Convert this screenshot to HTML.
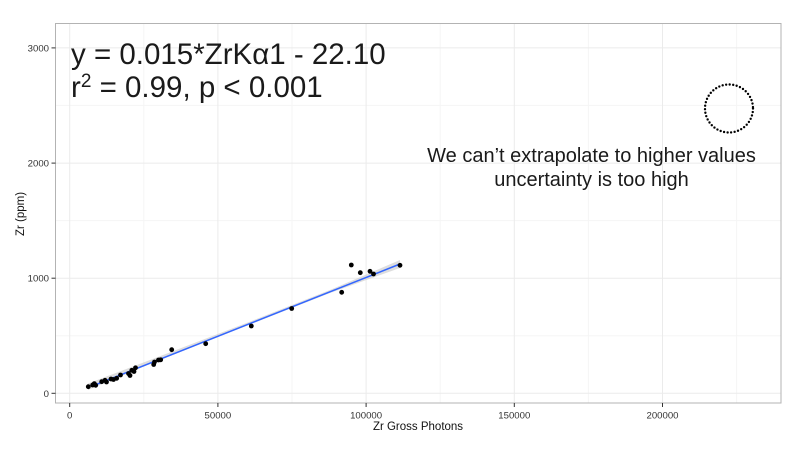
<!DOCTYPE html>
<html>
<head>
<meta charset="utf-8">
<style>
  html, body { margin: 0; padding: 0; background: #ffffff; }
  svg { display: block; }
  text { font-family: "Liberation Sans", Helvetica, Arial, sans-serif; }
</style>
</head>
<body>
<svg width="800" height="450" viewBox="0 0 800 450" xmlns="http://www.w3.org/2000/svg">
  <rect x="0" y="0" width="800" height="450" fill="#ffffff"/>
  <!-- panel -->
  <rect x="55.5" y="23.5" width="725.5" height="379.5" fill="#ffffff"/>
  <!-- minor grid -->
  <g stroke="#f5f5f5" stroke-width="1">
    <line x1="55.5" x2="781" y1="335.7" y2="335.7"/>
    <line x1="55.5" x2="781" y1="220.6" y2="220.6"/>
    <line x1="55.5" x2="781" y1="105.4" y2="105.4"/>
    <line x1="143.8" x2="143.8" y1="23.5" y2="403"/>
    <line x1="292" x2="292" y1="23.5" y2="403"/>
    <line x1="440.2" x2="440.2" y1="23.5" y2="403"/>
    <line x1="588.4" x2="588.4" y1="23.5" y2="403"/>
    <line x1="736.6" x2="736.6" y1="23.5" y2="403"/>
  </g>
  <!-- major grid -->
  <g stroke="#ebebeb" stroke-width="1">
    <line x1="55.5" x2="781" y1="393.3" y2="393.3"/>
    <line x1="55.5" x2="781" y1="278.2" y2="278.2"/>
    <line x1="55.5" x2="781" y1="163.1" y2="163.1"/>
    <line x1="55.5" x2="781" y1="47.9" y2="47.9"/>
    <line x1="69.7" x2="69.7" y1="23.5" y2="403"/>
    <line x1="217.9" x2="217.9" y1="23.5" y2="403"/>
    <line x1="366.1" x2="366.1" y1="23.5" y2="403"/>
    <line x1="514.3" x2="514.3" y1="23.5" y2="403"/>
    <line x1="662.5" x2="662.5" y1="23.5" y2="403"/>
  </g>
  <!-- panel border -->
  <rect x="55.5" y="23.5" width="725.5" height="379.5" fill="none" stroke="#b3b3b3" stroke-width="1"/>

  <!-- confidence band -->
  <polygon points="88,383.5 150,360 250,321.6 330,290 400,260 400,268 330,293 250,324.4 150,364 88,390" fill="#c8c8c8" opacity="0.6"/>
  <!-- regression line -->
  <line x1="95" y1="385" x2="400" y2="264" stroke="#3366ff" stroke-width="1.5"/>

  <!-- points -->
  <g fill="#000000">
    <circle cx="88.3" cy="386.7" r="2.4"/>
    <circle cx="92.7" cy="385" r="2.4"/>
    <circle cx="94.3" cy="383.6" r="2.4"/>
    <circle cx="95.7" cy="385.3" r="2.4"/>
    <circle cx="101.7" cy="381.7" r="2.4"/>
    <circle cx="105" cy="380.3" r="2.4"/>
    <circle cx="106.5" cy="382" r="2.4"/>
    <circle cx="111" cy="379" r="2.4"/>
    <circle cx="113.5" cy="379.5" r="2.4"/>
    <circle cx="116.7" cy="378.3" r="2.4"/>
    <circle cx="120.5" cy="375" r="2.4"/>
    <circle cx="128.5" cy="373.5" r="2.4"/>
    <circle cx="130" cy="375.5" r="2.4"/>
    <circle cx="131.8" cy="370.3" r="2.4"/>
    <circle cx="134" cy="371.5" r="2.4"/>
    <circle cx="135.5" cy="367.8" r="2.4"/>
    <circle cx="153.7" cy="364.5" r="2.4"/>
    <circle cx="154.5" cy="362" r="2.4"/>
    <circle cx="158.5" cy="360" r="2.4"/>
    <circle cx="160.7" cy="359.8" r="2.4"/>
    <circle cx="171.7" cy="349.7" r="2.4"/>
    <circle cx="205.7" cy="343.7" r="2.4"/>
    <circle cx="251.3" cy="326" r="2.4"/>
    <circle cx="291.7" cy="308.5" r="2.4"/>
    <circle cx="341.7" cy="292.3" r="2.4"/>
    <circle cx="351.3" cy="265" r="2.4"/>
    <circle cx="360.3" cy="272.7" r="2.4"/>
    <circle cx="370" cy="271.3" r="2.4"/>
    <circle cx="373.5" cy="274" r="2.4"/>
    <circle cx="400" cy="265.3" r="2.4"/>
  </g>

  <!-- dotted circle -->
  <circle cx="729" cy="108.5" r="24" fill="none" stroke="#000000" stroke-width="2.4" stroke-linecap="round" stroke-dasharray="0 3.55"/>

  <!-- equation text -->
  <text x="71" y="64" font-size="29.5" fill="#1a1a1a">y = 0.015*ZrKα1 - 22.10</text>
  <text x="71" y="97" font-size="29.5" fill="#1a1a1a">r<tspan font-size="19" dy="-10">2</tspan><tspan dy="10"> = 0.99, p &lt; 0.001</tspan></text>

  <!-- annotation -->
  <text x="591.5" y="162" font-size="20" fill="#1a1a1a" text-anchor="middle">We can’t extrapolate to higher values</text>
  <text x="591.5" y="186" font-size="20" fill="#1a1a1a" text-anchor="middle">uncertainty is too high</text>

  <!-- axis ticks -->
  <g stroke="#333333" stroke-width="1">
    <line x1="51.5" x2="55.5" y1="393.3" y2="393.3"/>
    <line x1="51.5" x2="55.5" y1="278.2" y2="278.2"/>
    <line x1="51.5" x2="55.5" y1="163.1" y2="163.1"/>
    <line x1="51.5" x2="55.5" y1="47.9" y2="47.9"/>
    <line x1="69.7" x2="69.7" y1="403" y2="407"/>
    <line x1="217.9" x2="217.9" y1="403" y2="407"/>
    <line x1="366.1" x2="366.1" y1="403" y2="407"/>
    <line x1="514.3" x2="514.3" y1="403" y2="407"/>
    <line x1="662.5" x2="662.5" y1="403" y2="407"/>
  </g>

  <!-- y tick labels -->
  <g font-size="9.6" fill="#333333" text-anchor="end">
    <text x="49" y="396.8">0</text>
    <text x="49" y="281.7">1000</text>
    <text x="49" y="166.6">2000</text>
    <text x="49" y="51.4">3000</text>
  </g>
  <!-- x tick labels -->
  <g font-size="9.6" fill="#333333" text-anchor="middle">
    <text x="69.7" y="418.5">0</text>
    <text x="217.9" y="418.5">50000</text>
    <text x="366.1" y="418.5">100000</text>
    <text x="514.3" y="418.5">150000</text>
    <text x="662.5" y="418.5">200000</text>
  </g>

  <!-- axis titles -->
  <text x="418" y="430" font-size="11.5" fill="#111111" text-anchor="middle">Zr Gross Photons</text>
  <text transform="translate(24,214) rotate(-90)" font-size="11.5" fill="#111111" text-anchor="middle">Zr (ppm)</text>
</svg>
</body>
</html>
